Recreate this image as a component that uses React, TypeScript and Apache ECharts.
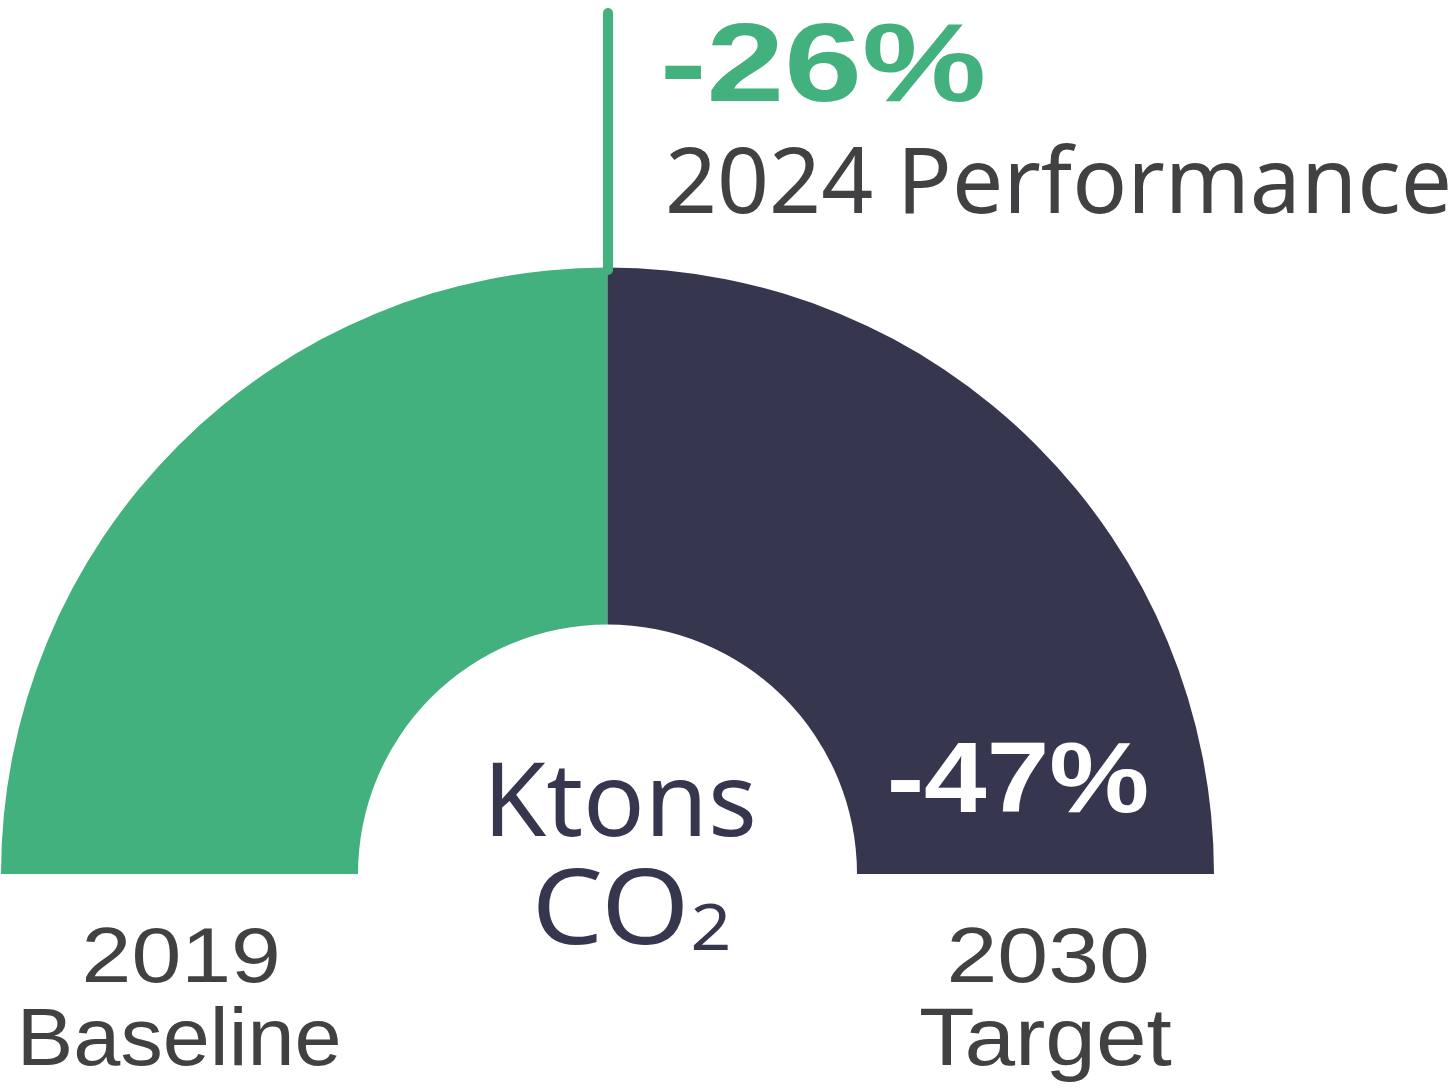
import React, { useEffect, useRef } from "react";
import * as echarts from "echarts";

// ---- data ----
const segmentNames = ["2024 Performance", "Remaining to 2030 Target"];
const segmentValues = [50, 50];
const performanceChange = "-26%";
const performanceLabel = "2024 Performance";
const targetChange = "-47%";
const unitLine1 = "Ktons";
const unitLine2Main = "CO";
const unitLine2Sub = "2";
const baselineYear = "2019";
const baselineLabel = "Baseline";
const targetYear = "2030";
const targetLabel = "Target";

// ---- style ----
const GREEN = "#43B17D";
const NAVY = "#36374F";
const GRAY = "#414042";
const FONT = "Noto Sans";
const COMPACT_FONT = "Liberation Sans";

type Box = {
  text: string;
  left: number;
  right: number;
  midY: number;
  size: number;
  weight: string;
  color: string;
  font?: string;
};

const measureCtx = (() => {
  const c = document.createElement("canvas");
  return c.getContext("2d") as CanvasRenderingContext2D;
})();

function fitText(b: Box) {
  const family = b.font || FONT;
  measureCtx.font = `${b.weight} ${b.size}px "${family}"`;
  const m = measureCtx.measureText(b.text);
  const abl = m.actualBoundingBoxLeft || 0;
  const abr = m.actualBoundingBoxRight || m.width;
  const ink = abl + abr;
  const s = (b.right - b.left) / ink;
  return {
    type: "text",
    x: b.left + s * abl,
    y: b.midY,
    scaleX: s,
    silent: true,
    style: {
      text: b.text,
      fontFamily: family,
      fontSize: b.size,
      fontWeight: b.weight,
      fill: b.color,
      align: "left",
      verticalAlign: "middle",
    },
  };
}

export default function App() {
  const ref = useRef<HTMLDivElement>(null);
  useEffect(() => {
    if (!ref.current) return;
    const chart = echarts.init(ref.current, null, { renderer: "svg" });
    const boxes: Box[] = [
      { text: performanceChange, left: 665, right: 983, midY: 62.5, size: 112, weight: "bold", color: GREEN, font: COMPACT_FONT },
      { text: performanceLabel, left: 669, right: 1448, midY: 177.5, size: 91, weight: "normal", color: GRAY },
      { text: targetChange, left: 890, right: 1147, midY: 777.5, size: 100, weight: "bold", color: "#FFFFFF", font: COMPACT_FONT },
      { text: unitLine1, left: 492, right: 753, midY: 796.5, size: 102, weight: "normal", color: NAVY },
      { text: unitLine2Main, left: 538, right: 683, midY: 903, size: 105, weight: "normal", color: NAVY },
      { text: unitLine2Sub, left: 694, right: 728, midY: 925.5, size: 63, weight: "normal", color: NAVY },
      { text: baselineYear, left: 85, right: 277, midY: 955, size: 78, weight: "normal", color: GRAY, font: COMPACT_FONT },
      { text: baselineLabel, left: 23, right: 338, midY: 1037, size: 82, weight: "normal", color: GRAY, font: COMPACT_FONT },
      { text: targetYear, left: 950, right: 1147, midY: 955, size: 78, weight: "normal", color: GRAY, font: COMPACT_FONT },
      { text: targetLabel, left: 920, right: 1172, midY: 1037, size: 82, weight: "normal", color: GRAY, font: COMPACT_FONT },
    ];
    const option: any = {
      animation: false,
      backgroundColor: "#FFFFFF",
      series: [
        {
          type: "pie",
          center: [607.5, 874],
          radius: [249.5, 606.5],
          startAngle: 180,
          endAngle: 0,
          clockwise: true,
          silent: true,
          label: { show: false },
          labelLine: { show: false },
          emphasis: { disabled: true },
          data: segmentNames.map((n, i) => ({
            name: n,
            value: segmentValues[i],
            itemStyle: { color: i === 0 ? GREEN : NAVY, borderWidth: 0 },
          })),
        },
      ],
      graphic: [
        {
          type: "line",
          silent: true,
          z: 10,
          shape: { x1: 608, y1: 13, x2: 608, y2: 270 },
          style: { stroke: GREEN, lineWidth: 10, lineCap: "round" },
        },
        ...boxes.map((b) => ({ ...fitText(b), z: 20 })),
      ],
    };
    chart.setOption(option);
    return () => chart.dispose();
  }, []);
  return (
    <div
      ref={ref}
      style={{ position: "fixed", left: 0, top: 0, width: 1454, height: 1088, background: "#fff" }}
    />
  );
}
